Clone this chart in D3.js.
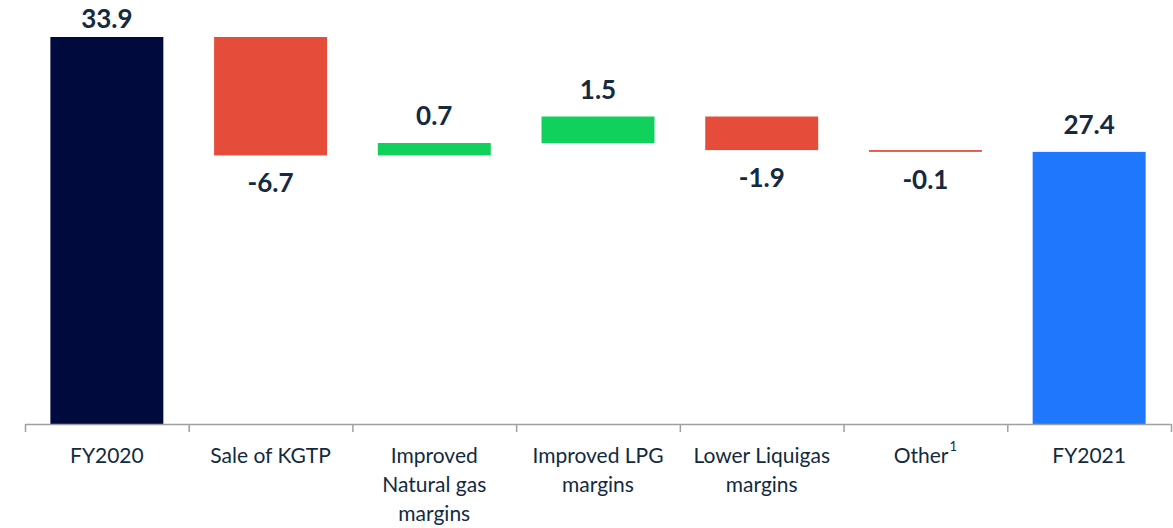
<!DOCTYPE html>
<html>
<head>
<meta charset="utf-8">
<script src="https://cdn.jsdelivr.net/npm/d3@7"></script>
<style>
  html, body { margin: 0; padding: 0; background: #fff; }
  svg { display: block; }
</style>
</head>
<body>
<svg id="chart" width="1173" height="528"></svg>
<script>
// ---- data ----
const categories = ["FY2020", "Sale of KGTP", "Improved Natural gas margins", "Improved LPG margins", "Lower Liquigas margins", "Other", "FY2021"];
const categoryLines = [["FY2020"], ["Sale of KGTP"], ["Improved", "Natural gas", "margins"], ["Improved LPG", "margins"], ["Lower Liquigas", "margins"], ["Other"], ["FY2021"]];
const footnotes = ["", "", "", "", "", "1", ""];
const values = [33.9, -6.7, 0.7, 1.5, -1.9, -0.1, 27.4];
const kinds = ["total", "delta", "delta", "delta", "delta", "delta", "total"];
const valueLabels = ["33.9", "-6.7", "0.7", "1.5", "-1.9", "-0.1", "27.4"];
const yDomain = [12, 33.9];

// ---- layout ----
const W = 1173, H = 528;
const axisY = 424, topY = 37, left = 25, right = 1171;
const colors = { startTotal: "#000a3c", endTotal: "#1f77fe", up: "#10d15c", down: "#e54d3a" };
const textColor = "#132a3f";
const font = "Lato, 'Open Sans', sans-serif";

const svg = d3.select("#chart");

const x = d3.scaleBand().domain(categories).range([left, right]).paddingInner(0.31).paddingOuter(0.155);
const xIdx = d3.scaleLinear().domain([0, categories.length]).range([left, right]);
const y = d3.scaleLinear().domain(yDomain).range([axisY, topY]);

// compute waterfall segments
let running = 0;
const bars = categories.map((c, i) => {
  let start, end, color;
  if (kinds[i] === "total") {
    start = yDomain[0]; end = values[i]; running = values[i];
    color = i === 0 ? colors.startTotal : colors.endTotal;
  } else {
    start = running; end = running + values[i]; running = end;
    color = values[i] >= 0 ? colors.up : colors.down;
  }
  return { c, i, start, end, color, v: values[i], kind: kinds[i] };
});

svg.append("g").selectAll("rect").data(bars).join("rect")
  .attr("x", d => x(d.c))
  .attr("width", x.bandwidth())
  .attr("y", d => y(Math.max(d.start, d.end)))
  .attr("height", d => Math.abs(y(d.start) - y(d.end)))
  .attr("fill", d => d.color);

// value labels
svg.append("g").selectAll("text").data(bars).join("text")
  .attr("x", d => x(d.c) + x.bandwidth() / 2)
  .attr("y", d => {
    if (d.kind === "total" || d.v >= 0) return Math.max(28, y(Math.max(d.start, d.end)) - 18);
    return y(Math.min(d.start, d.end)) + 37;
  })
  .attr("text-anchor", "middle")
  .attr("font-family", font)
  .attr("font-weight", "bold")
  .attr("font-size", 26)
  .attr("fill", textColor)
  .text((d, i) => valueLabels[i]);

// axis
const axis = d3.axisBottom(xIdx)
  .tickValues(d3.range(categories.length + 1))
  .tickFormat("")
  .tickSizeInner(8)
  .tickSizeOuter(0);
const gAxis = svg.append("g").attr("transform", `translate(0,${axisY})`).call(axis);
gAxis.select(".domain").attr("stroke", "#a0a0a0").attr("stroke-width", 1.5);
gAxis.selectAll(".tick line").attr("stroke", "#a0a0a0").attr("stroke-width", 1.5);

// category labels
const catG = svg.append("g");
categories.forEach((c, i) => {
  const cx = x(c) + x.bandwidth() / 2;
  const t = catG.append("text")
    .attr("x", cx)
    .attr("y", 463)
    .attr("text-anchor", "middle")
    .attr("font-family", font)
    .attr("font-size", 21)
    .attr("fill", textColor);
  categoryLines[i].forEach((line, j) => {
    t.append("tspan").attr("x", cx).attr("dy", j === 0 ? 0 : 29).text(line);
  });
  if (footnotes[i]) {
    t.append("tspan").attr("dx", 1).attr("dy", -12).attr("font-size", 13).text(footnotes[i]);
  }
});
</script>
</body>
</html>
